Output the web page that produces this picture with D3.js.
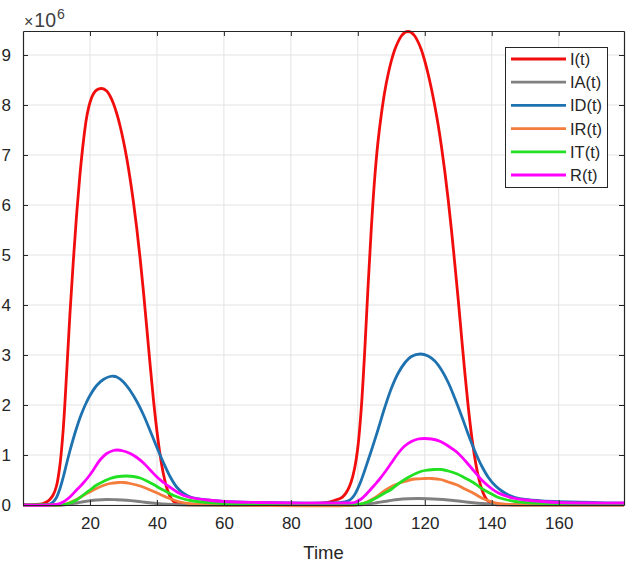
<!DOCTYPE html>
<html><head><meta charset="utf-8">
<script src="https://cdn.jsdelivr.net/npm/d3@7/dist/d3.min.js"></script>
<style>body{margin:0;background:#fff;} svg{display:block;font-family:Arial,"Liberation Sans",Helvetica,sans-serif;}</style>
</head><body><svg id="chart" width="630" height="563"></svg>
<script>
// ---- data (values in millions, ×10^6) ----
const seriesNames = ["I(t)","IA(t)","ID(t)","IR(t)","IT(t)","R(t)"];
const seriesColors = ["#f20d0d","#808080","#1f72b0","#f47c3c","#22e022","#ff00ff"];
const xTicks = [20,40,60,80,100,120,140,160];
const yTicks = [0,1,2,3,4,5,6,7,8,9];

const I_t = [[0,0.01],[4,0.012],[6,0.03],[7,0.06],[8,0.11],[9,0.2],[10,0.38],[11,0.78],[12,1.5],[13,2.6],[14,3.8],[15,4.85],[16,5.8],[17,6.6],[18,7.25],[19,7.75],[20,8.05],[21,8.22],[22,8.3],[23.5,8.33],[25,8.28],[26,8.18],[27,8.03],[28,7.83],[29,7.58],[30,7.28],[31,6.93],[32,6.52],[33,6.05],[34,5.52],[35,4.92],[36,4.25],[37,3.52],[38,2.78],[39,2.08],[40,1.48],[41,0.98],[42,0.6],[43,0.33],[44,0.16],[45,0.07],[46,0.03],[48,0.01],[55,0.005],[80,0.005],[86,0.015],[90,0.04],[93,0.09],[95,0.14],[96,0.2],[97,0.3],[98,0.46],[99,0.72],[100,1.15],[101,1.9],[102,3.0],[103,4.3],[104,5.5],[105,6.5],[106,7.25],[107,7.8],[108,8.25],[109,8.6],[110,8.88],[111,9.1],[112,9.26],[113,9.38],[114,9.45],[115,9.47],[116,9.45],[117,9.38],[118,9.26],[119,9.1],[120,8.88],[121,8.62],[122,8.32],[123,7.98],[124,7.6],[125,7.16],[126,6.66],[127,6.1],[128,5.48],[129,4.8],[130,4.1],[131,3.35],[132,2.62],[133,1.95],[134,1.38],[135,0.92],[136,0.57],[137,0.32],[138,0.16],[139,0.07],[140,0.025],[141,0.01],[150,0.003],[179.5,0.003]];
const IA_t = [[0,0],[12,0],[14,0.02],[16,0.04],[18,0.065],[20,0.085],[22,0.1],[25,0.11],[28,0.105],[31,0.095],[34,0.075],[37,0.05],[40,0.03],[43,0.015],[46,0.005],[50,0],[100,0],[103,0.02],[106,0.05],[109,0.08],[112,0.11],[115,0.125],[118,0.13],[121,0.125],[124,0.115],[127,0.1],[130,0.08],[133,0.055],[136,0.035],[139,0.02],[142,0.008],[146,0],[179.5,0]];
const ID_t = [[0,0],[6,0.005],[8,0.02],[9,0.06],[10,0.15],[11,0.32],[12,0.55],[13,0.82],[14,1.08],[15,1.32],[16,1.54],[17,1.74],[18,1.91],[19,2.06],[20,2.19],[22,2.39],[24,2.51],[26,2.57],[27,2.575],[28,2.56],[30,2.46],[32,2.29],[34,2.07],[36,1.8],[38,1.48],[40,1.15],[42,0.84],[44,0.56],[46,0.35],[48,0.23],[50,0.16],[55,0.1],[60,0.07],[70,0.05],[80,0.04],[90,0.04],[95,0.05],[97,0.08],[98,0.12],[99,0.2],[100,0.33],[101,0.49],[102,0.68],[103,0.88],[104,1.08],[106,1.5],[108,1.94],[110,2.33],[112,2.63],[114,2.84],[116,2.97],[118.7,3.02],[121,2.98],[123,2.88],[125,2.7],[127,2.45],[129,2.13],[131,1.78],[133,1.41],[135,1.07],[137,0.78],[139,0.55],[141,0.39],[143,0.28],[145,0.2],[147,0.15],[150,0.11],[155,0.08],[160,0.065],[170,0.05],[179.5,0.035]];
const IR_t = [[0,0],[12,0.01],[14,0.05],[16,0.11],[18,0.19],[21,0.3],[24,0.39],[26,0.43],[28.5,0.45],[30,0.45],[32,0.43],[35,0.38],[38,0.3],[41,0.21],[43,0.15],[45,0.1],[47,0.06],[50,0.025],[55,0.008],[60,0],[99,0],[102,0.04],[105,0.14],[108.3,0.3],[111,0.4],[114,0.47],[117,0.52],[120,0.53],[122,0.53],[124.7,0.51],[127,0.46],[129.7,0.4],[132,0.32],[134.7,0.23],[137,0.14],[139.7,0.07],[142,0.03],[145,0.01],[150,0],[179.5,0]];
const IT_t = [[0,0],[12,0.01],[14,0.04],[16,0.1],[18,0.2],[20,0.3],[22,0.4],[24,0.47],[26,0.53],[28,0.565],[31,0.58],[33,0.57],[35,0.54],[37,0.48],[39,0.41],[41,0.33],[43,0.26],[45,0.19],[47,0.14],[50,0.09],[55,0.05],[60,0.03],[70,0.02],[90,0.01],[100,0.012],[103,0.06],[106,0.16],[108,0.24],[109.7,0.3],[112,0.42],[115,0.55],[118,0.65],[120,0.69],[122.7,0.71],[125,0.71],[127,0.68],[129.7,0.62],[132,0.54],[134.7,0.44],[137,0.33],[139.7,0.23],[142,0.15],[144.7,0.1],[147,0.07],[150,0.05],[160,0.03],[179.5,0.02]];
const R_t = [[0,0],[10,0.01],[12,0.06],[14,0.16],[16,0.3],[18,0.44],[19.5,0.56],[21,0.7],[23,0.9],[25,1.03],[27,1.09],[28,1.1],[30,1.08],[32,1.03],[34,0.95],[36,0.84],[38,0.7],[40,0.56],[42,0.45],[44,0.35],[46,0.26],[48,0.19],[50,0.15],[55,0.1],[60,0.07],[70,0.05],[80,0.04],[90,0.04],[96,0.04],[99,0.05],[101,0.12],[103,0.25],[105,0.4],[106.3,0.5],[108,0.65],[110,0.84],[112,1.03],[114,1.18],[116,1.27],[118,1.32],[120,1.33],[122,1.32],[124.7,1.27],[127,1.18],[129.7,1.05],[132,0.89],[134.7,0.68],[137,0.5],[139.7,0.34],[142,0.24],[144.7,0.17],[147,0.13],[150,0.1],[155,0.07],[160,0.05],[170,0.04],[179.5,0.04]];
const seriesData = [I_t, IA_t, ID_t, IR_t, IT_t, R_t];

// ---- layout ----
const svg = d3.select("#chart");
const m = {left:23, top:31, right:624, bottom:505};
const x = d3.scaleLinear().domain([0, 179.5]).range([m.left, m.right]);
const y = d3.scaleLinear().domain([0, 9.48]).range([m.bottom, m.top]);
const axisColor = "#262626";

// grid
const g = svg.append("g");
g.selectAll("line.gx").data(xTicks).join("line")
  .attr("x1", d=>x(d)).attr("x2", d=>x(d)).attr("y1", m.top).attr("y2", m.bottom)
  .attr("stroke", "#e3e3e3").attr("stroke-width", 1);
g.selectAll("line.gy").data(yTicks).join("line")
  .attr("x1", m.left).attr("x2", m.right).attr("y1", d=>y(d)).attr("y2", d=>y(d))
  .attr("stroke", "#e3e3e3").attr("stroke-width", 1);

// lines
const line = d3.line().x(d=>x(d[0])).y(d=>y(Math.max(0,d[1]))).curve(d3.curveCatmullRom.alpha(0.5));
svg.append("clipPath").attr("id","clip").append("rect")
  .attr("x", m.left).attr("y", m.top-3).attr("width", m.right-m.left).attr("height", m.bottom-m.top+6);
svg.append("g").attr("clip-path","url(#clip)").selectAll("path").data(seriesData).join("path")
  .attr("d", d=>line(d)).attr("fill","none")
  .attr("stroke", (d,i)=>seriesColors[i]).attr("stroke-width", 2.8)
  .attr("stroke-linejoin","round").attr("stroke-linecap","round");

// axes with inward ticks (box)
const tickLen = 5;
const axB = svg.append("g").attr("transform", `translate(0,${m.bottom})`)
  .call(d3.axisBottom(x).tickValues(xTicks).tickSize(-tickLen).tickPadding(12).tickSizeOuter(0));
const axT = svg.append("g").attr("transform", `translate(0,${m.top})`)
  .call(d3.axisTop(x).tickValues(xTicks).tickSize(-tickLen).tickFormat("").tickSizeOuter(0));
const axL = svg.append("g").attr("transform", `translate(${m.left},0)`)
  .call(d3.axisLeft(y).tickValues(yTicks).tickSize(-tickLen).tickPadding(12).tickSizeOuter(0));
const axR = svg.append("g").attr("transform", `translate(${m.right},0)`)
  .call(d3.axisRight(y).tickValues(yTicks).tickSize(-tickLen).tickFormat("").tickSizeOuter(0));
[axB, axT, axL, axR].forEach(a => {
  a.select(".domain").attr("stroke", axisColor).attr("stroke-width", 1.2);
  a.selectAll(".tick line").attr("stroke", axisColor).attr("stroke-width", 1);
  a.selectAll(".tick text").attr("fill", axisColor).attr("font-size", 17)
    .attr("font-family", "Arial, 'Liberation Sans', sans-serif");
});
axB.selectAll(".tick text").attr("dy", "0.71em");

// exponent label
const ex = svg.append("text").attr("x", 24).attr("y", 27).attr("fill", "#404040")
  .attr("font-size", 19.5);
ex.append("tspan").attr("font-size", 16).text("×");
ex.append("tspan").attr("dx", 1).text("10");
ex.append("tspan").attr("font-size", 14).attr("dy", -8).attr("dx", 1).text("6");

// x label
svg.append("text").attr("x", (m.left+m.right)/2).attr("y", 559).attr("text-anchor","middle")
  .attr("fill", axisColor).attr("font-size", 18.5).text("Time");

// legend
const lg = svg.append("g");
lg.append("rect").attr("x", 505.5).attr("y", 47.5).attr("width", 102).attr("height", 140)
  .attr("fill", "#fff").attr("stroke", axisColor).attr("stroke-width", 1);
const rowY = d3.scaleLinear().domain([0, 5]).range([59, 175]);
seriesNames.forEach((name, i) => {
  lg.append("line").attr("x1", 511).attr("x2", 566).attr("y1", rowY(i)).attr("y2", rowY(i))
    .attr("stroke", seriesColors[i]).attr("stroke-width", 2.8);
  lg.append("text").attr("x", 570).attr("y", rowY(i)).attr("dy", "0.36em")
    .attr("fill", axisColor).attr("font-size", 16.5).text(name);
});
</script></body></html>
